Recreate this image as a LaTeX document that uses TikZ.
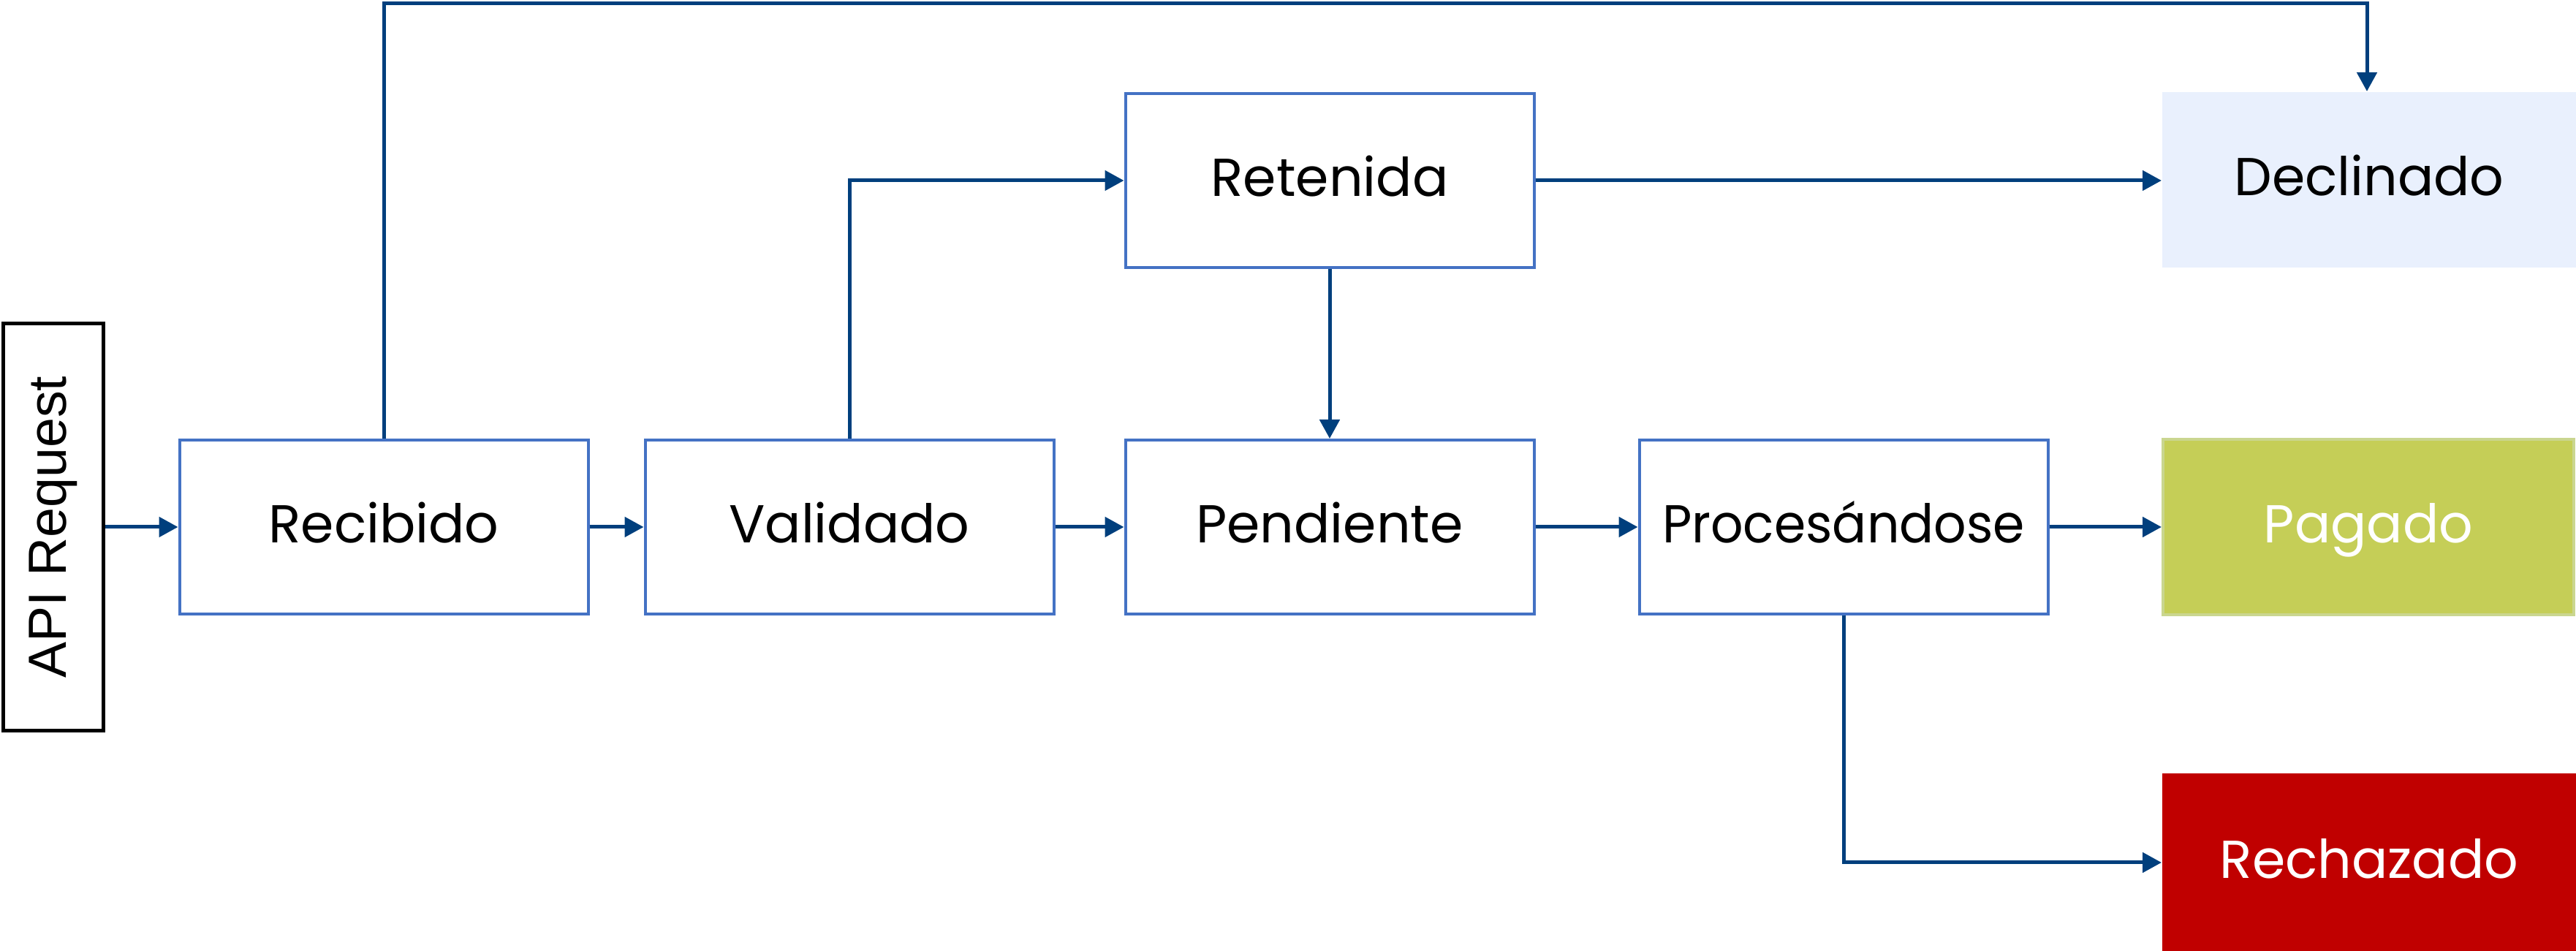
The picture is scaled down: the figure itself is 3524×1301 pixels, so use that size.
\documentclass[tikz,border=0pt]{standalone}
\usepackage{graphicx}
\usepackage{fontspec}
\setmainfont{Poppins}
\newfontfamily\arialf{Liberation Sans}
\usetikzlibrary{arrows.meta}
\definecolor{boxblue}{HTML}{4472C4}
\definecolor{arrowblue}{HTML}{003F7D}
\definecolor{declfill}{HTML}{E9F0FD}
\definecolor{pagfill}{HTML}{C5CE57}
\definecolor{pagline}{HTML}{CAD68F}
\definecolor{rejfill}{HTML}{C00000}
\newlength{\unitpx}
\setlength{\unitpx}{0.2pt}
\tikzset{
  txt/.style={text height=10pt, text depth=1.2pt, font=\fontsize{14.6}{18}\selectfont},
  state/.style={txt, draw=boxblue, line width=0.8pt, fill=white, minimum width=559\unitpx, minimum height=238\unitpx, inner sep=0pt},
  final/.style={txt, minimum width=566\unitpx, minimum height=240\unitpx, inner sep=0pt},
  conn/.style={draw=arrowblue, line width=1pt, -{Triangle[length=5.2pt,width=5.4pt]}},
}
\begin{document}
\begin{tikzpicture}[x=0.2pt,y=-0.2pt]
\useasboundingbox (0,0) rectangle (3524,1301);
\node[draw=black, line width=1pt, minimum width=557\unitpx, minimum height=137\unitpx, inner sep=0pt, rotate=90, font=\arialf\fontsize{14.7}{18}\selectfont] (api) at (73,721) {API Request};
\node[state] (rec) at (525,721) {Recibido};
\node[state] (val) at (1162,721) {Validado};
\node[state] (pen) at (1819,721) {Pendiente};
\node[state] (pro) at (2522,721) {\scalebox{0.955}[1]{Procesándose}};
\node[state] (ret) at (1819,247) {Retenida};
\node[final, fill=declfill] (dec) at (3241,246) {Declinado};
\node[final, fill=pagfill, draw=pagline, line width=0.8pt, minimum width=562\unitpx, text=white] (pag) at (3240,721) {Pagado};
\node[final, fill=rejfill, text=white, minimum height=244\unitpx] (rej) at (3241,1180) {Rechazado};
\coordinate (top) at (525,5);
\draw[conn] (api.south) -- (rec.west);
\draw[conn] (rec.east) -- (val.west);
\draw[conn] (val.east) -- (pen.west);
\draw[conn] (pen.east) -- (pro.west);
\draw[conn] (pro.east) -- (pag.west);
\draw[conn] (val.north) |- (ret.west);
\draw[conn] (ret.east) -- (dec.west |- ret.east);
\draw[conn] (ret.south) -- (pen.north);
\draw[conn] (rec.north) -- (top) -| ([xshift=-0.6pt]dec.north);
\draw[conn] (pro.south) |- (rej.west);
\end{tikzpicture}
\end{document}
